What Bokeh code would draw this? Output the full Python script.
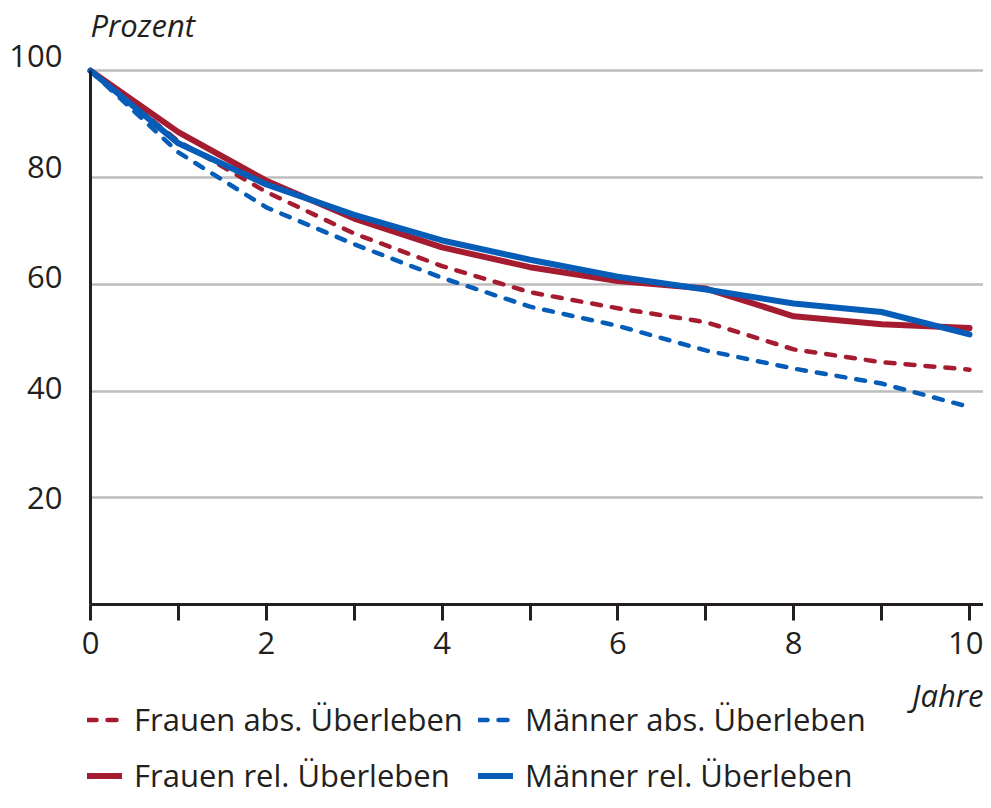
from bokeh.plotting import figure
from bokeh.models import Range1d, Legend, LegendItem, FixedTicker, LinearAxis, Label
from bokeh.embed import file_html
from bokeh.resources import INLINE

years = [0, 1, 2, 3, 4, 5, 6, 7, 8, 9, 10]
frauen_abs = [100, 86.8, 77.3, 69.5, 63.4, 58.5, 55.5, 52.9, 47.8, 45.4, 44.0]
maenner_abs = [100, 84.7, 74.4, 67.5, 61.2, 55.8, 52.2, 47.6, 44.2, 41.4, 37.0]
frauen_rel = [100, 88.5, 79.4, 72.3, 66.9, 63.2, 60.6, 59.2, 54.0, 52.5, 51.8]
maenner_rel = [100, 86.4, 78.7, 73.0, 68.2, 64.6, 61.4, 59.0, 56.4, 54.8, 50.6]

x_ticks = [0, 1, 2, 3, 4, 5, 6, 7, 8, 9, 10]
x_tick_labels = ["0", "", "2", "", "4", "", "6", "", "8", "", "10"]
y_ticks = [20, 40, 60, 80, 100]

legend_labels = ["Frauen abs. Überleben", "Männer abs. Überleben",
                 "Frauen rel. Überleben", "Männer rel. Überleben"]

RED = "#A51C30"
BLUE = "#065DB8"
INK = "#231F20"
FONT = "Open Sans"
FS = "31px"

X_END = 10.159

# frame: x from 66 px to the right edge, y from 45 px to the bottom edge;
# data origin (0, 0) sits at (90, 604) px
p = figure(width=983, height=800, output_backend="svg", toolbar_location=None,
           x_range=Range1d(-0.273, X_END), y_range=Range1d(-36.72, 104.73),
           min_border_left=66, min_border_right=0, min_border_top=45,
           min_border_bottom=0)
p.outline_line_color = None
p.background_fill_color = "white"
p.border_fill_color = "white"

# title "Prozent"
p.title.text = "Prozent"
p.title.align = "left"
p.title.offset = 24
p.title.text_font = FONT
p.title.text_font_size = FS
p.title.text_font_style = "italic"
p.title.text_color = INK
p.title.standoff = 0

# grid
p.xgrid.visible = False
grid = p.ygrid[0]
grid.ticker = FixedTicker(ticks=y_ticks)
grid.grid_line_color = "#BDBDBF"
grid.grid_line_width = 2.5
if "cross_bounds" in grid.properties():
    grid.cross_bounds = (0, X_END)

# x axis drawn at y = 0
p.xaxis.fixed_location = 0
p.xaxis.bounds = (0, X_END)
p.xaxis.ticker = FixedTicker(ticks=x_ticks)
p.xaxis.major_label_overrides = {t: l for t, l in zip(x_ticks, x_tick_labels)}
p.xaxis.axis_line_color = INK
p.xaxis.axis_line_width = 3
p.xaxis.major_tick_line_color = INK
p.xaxis.major_tick_line_width = 3
p.xaxis.major_tick_out = 16
p.xaxis.major_tick_in = 0
p.xaxis.minor_tick_line_color = None
p.xaxis.major_label_text_font = FONT
p.xaxis.major_label_text_font_size = FS
p.xaxis.major_label_text_color = INK
p.xaxis.major_label_standoff = 11

# main y axis drawn at x = 0: line only, from 0 to 100
p.yaxis.fixed_location = 0
p.yaxis.ticker = FixedTicker(ticks=[])
p.yaxis.bounds = (0, 100)
p.yaxis.axis_line_color = INK
p.yaxis.axis_line_width = 3
p.yaxis.major_tick_line_color = None
p.yaxis.minor_tick_line_color = None
p.yaxis.major_tick_in = 0
p.yaxis.major_tick_out = 0
p.yaxis.major_label_standoff = 0

# label-only y axis (labels in the reference sit on a slightly stretched scale)
p.extra_y_ranges = {"lab": Range1d(-34.81, 101.99)}
lab_axis = LinearAxis(y_range_name="lab", ticker=FixedTicker(ticks=y_ticks),
                      axis_line_color=None, major_tick_line_color=None,
                      minor_tick_line_color=None, major_tick_in=0, major_tick_out=0,
                      major_label_standoff=4,
                      major_label_text_font=FONT, major_label_text_font_size=FS,
                      major_label_text_color=INK)
p.add_layout(lab_axis, "left")

r_fa = p.line(years, frauen_abs, line_color=RED, line_width=4.5, line_dash="9 11",
              line_cap="round")
r_ma = p.line(years, maenner_abs, line_color=BLUE, line_width=4.5, line_dash="9 11",
              line_cap="round")
r_fr = p.line(years, frauen_rel, line_color=RED, line_width=6, line_cap="round",
              line_join="round")
r_mr = p.line(years, maenner_rel, line_color=BLUE, line_width=6, line_cap="round",
              line_join="round")

p.add_layout(Label(x=10, y=0, text="Jahre", x_offset=14, y_offset=-90,
                   text_align="right", text_baseline="alphabetic",
                   text_font=FONT, text_font_style="italic", text_font_size=FS,
                   text_color=INK))


def make_legend(entries, vx, vy):
    return Legend(items=[LegendItem(label=l, renderers=[r]) for l, r in entries],
                  location=(vx, vy), orientation="horizontal",
                  glyph_width=35, glyph_height=35, label_height=35, label_width=332,
                  label_standoff=12, spacing=12, padding=0, margin=0,
                  label_text_font=FONT, label_text_font_size=FS,
                  label_text_color=INK, border_line_color=None,
                  background_fill_alpha=0)


leg1 = make_legend([(legend_labels[0], r_fa), (legend_labels[1], r_ma)], 21, 60)
leg2 = make_legend([(legend_labels[2], r_fr), (legend_labels[3], r_mr)], 21, 4)
p.add_layout(leg1, "center")
p.add_layout(leg2, "center")

open("out.html", "w").write(file_html(p, INLINE))
